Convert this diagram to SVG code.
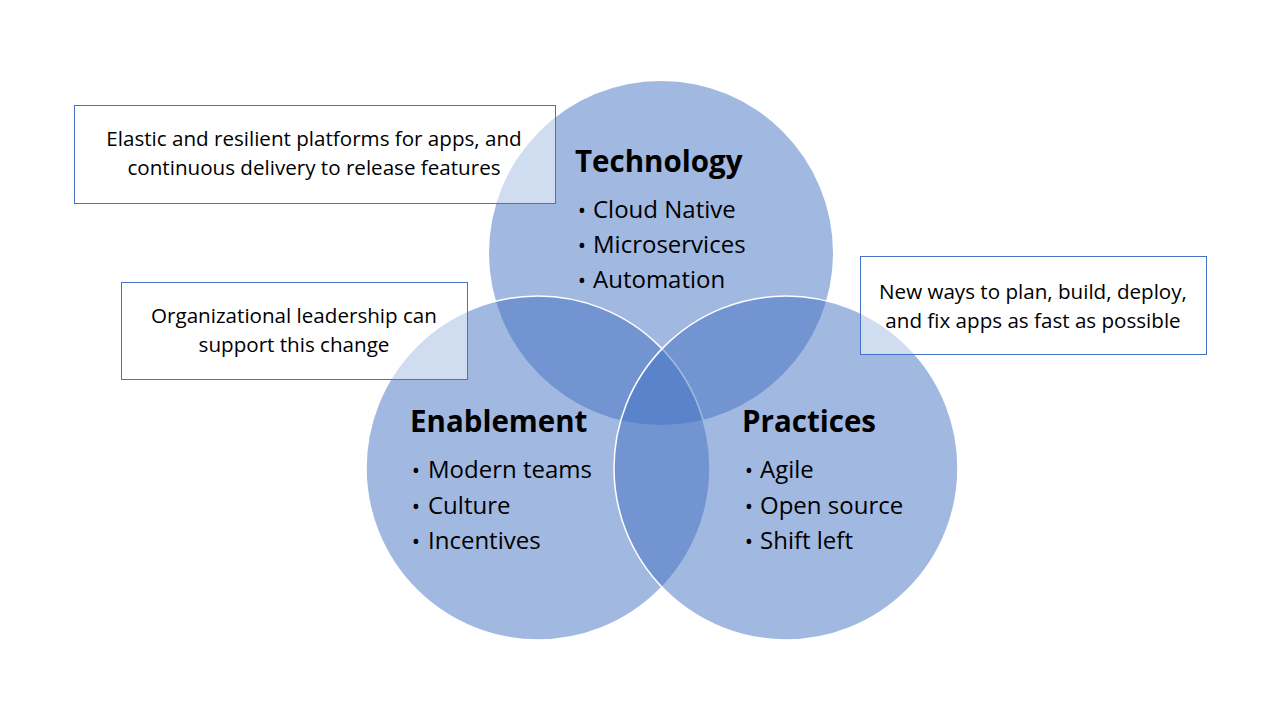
<svg xmlns="http://www.w3.org/2000/svg" width="1280" height="720" viewBox="0 0 1280 720">
<style>
.c{fill:#4472C4;fill-opacity:0.5}
.cs{fill:#4472C4;fill-opacity:0.5;stroke:#ffffff;stroke-width:1.5}
.box{fill:#ffffff;fill-opacity:0.5;stroke:#4472C4;stroke-width:1}
.bt{font-family:"Open Sans","Noto Sans",sans-serif;font-size:20.6px;fill:#000;text-anchor:middle}
.ti{font-family:"Open Sans","Noto Sans",sans-serif;font-size:29.5px;font-weight:bold;fill:#000}
.li{font-family:"Open Sans","Noto Sans",sans-serif;font-size:24px;fill:#000}
.bu{font-family:"Open Sans","Noto Sans",sans-serif;font-size:22px;fill:#000;text-anchor:middle}
</style>
<rect width="1280" height="720" fill="#ffffff"/>
<g id="technology">
<circle class="c" cx="661" cy="253" r="172"/>
</g>
<g id="enablement">
<circle class="cs" cx="538" cy="468" r="172"/>
</g>
<g id="practices">
<circle class="cs" cx="786" cy="468" r="172"/>
</g>
<g id="technology-text">
<text class="ti" x="575" y="172">Technology</text>
<text class="bu" x="582" y="218">•</text><text class="li" x="593" y="218">Cloud Native</text>
<text class="bu" x="582" y="253">•</text><text class="li" x="593" y="253">Microservices</text>
<text class="bu" x="582" y="288">•</text><text class="li" x="593" y="288">Automation</text>
</g>
<g id="enablement-text">
<text class="ti" x="410" y="432">Enablement</text>
<text class="bu" x="416" y="478">•</text><text class="li" x="428" y="478">Modern teams</text>
<text class="bu" x="416" y="514">•</text><text class="li" x="428" y="514">Culture</text>
<text class="bu" x="416" y="549">•</text><text class="li" x="428" y="549">Incentives</text>
</g>
<g id="practices-text">
<text class="ti" x="742" y="432">Practices</text>
<text class="bu" x="749" y="478">•</text><text class="li" x="760" y="478">Agile</text>
<text class="bu" x="749" y="514">•</text><text class="li" x="760" y="514">Open source</text>
<text class="bu" x="749" y="549">•</text><text class="li" x="760" y="549">Shift left</text>
</g>
<g id="box-technology">
<rect class="box" x="74.5" y="105.5" width="481" height="98"/>
<text class="bt" x="314" y="146">Elastic and resilient platforms for apps, and</text>
<text class="bt" x="314" y="175">continuous delivery to release features</text>
</g>
<g id="box-enablement">
<rect class="box" x="121.5" y="282.5" width="346" height="97"/>
<text class="bt" x="294" y="323">Organizational leadership can</text>
<text class="bt" x="294" y="352">support this change</text>
</g>
<g id="box-practices">
<rect class="box" x="860.5" y="256.5" width="346" height="98"/>
<text class="bt" x="1033" y="299">New ways to plan, build, deploy,</text>
<text class="bt" x="1033" y="328">and fix apps as fast as possible</text>
</g>
<g id="connectors"></g>
</svg>
